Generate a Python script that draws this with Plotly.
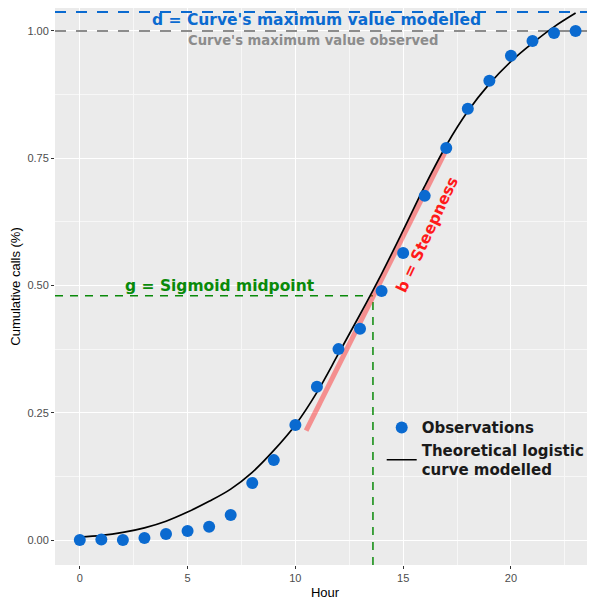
import plotly.graph_objects as go

# observed cumulative share of calls per hour
hours = list(range(24))
observed = [0.000, 0.001, 0.000, 0.004, 0.012, 0.018, 0.026, 0.049, 0.112, 0.157,
            0.226, 0.301, 0.375, 0.415, 0.489, 0.564, 0.676, 0.770, 0.847, 0.902,
            0.951, 0.980, 0.996, 1.000]

# theoretical logistic curve
curve_x = list(range(24))
curve_y = [0.006, 0.009, 0.015, 0.024, 0.037, 0.055, 0.076, 0.100, 0.133, 0.176,
           0.226, 0.290, 0.366, 0.443, 0.523, 0.608, 0.695, 0.775, 0.842, 0.896,
           0.940, 0.976, 1.008, 1.035]

# steepness segment
slope_x = [10.5, 17.1]
slope_y = [0.215, 0.775]

d_model = 1.037
d_obs = 1.0
g_x = 13.6
g_y = 0.48

x_range = [-1.15, 23.9]
y_range = [-0.049, 1.045]
x_ticks = [0, 5, 10, 15, 20]
y_ticks = [0.0, 0.25, 0.5, 0.75, 1.0]
y_labels = ["0.00", "0.25", "0.50", "0.75", "1.00"]

blue = "#0A6AD0"
green = "#0A8A0A"
grey = "#8C8C8C"

fig = go.Figure()


def ref_line(xs, ys, color, width, dash):
    fig.add_trace(go.Scatter(x=xs, y=ys, mode="lines", showlegend=False, hoverinfo="skip",
                             line=dict(color=color, width=width, dash=dash)))


# reference lines
ref_line(x_range, [d_model, d_model], blue, 2, "11px,10px")
ref_line(x_range, [d_obs, d_obs], grey, 2, "11px,10px")
ref_line([x_range[0], g_x], [g_y, g_y], green, 1.5, "8px,7px")
ref_line([g_x, g_x], [y_range[0], g_y], green, 1.5, "8px,7px")

fig.add_trace(go.Scatter(x=slope_x, y=slope_y, mode="lines",
                         line=dict(color="rgba(255,30,30,0.45)", width=5),
                         showlegend=False, hoverinfo="skip"))

fig.add_trace(go.Scatter(x=curve_x, y=curve_y, mode="lines",
                         line=dict(color="black", width=1.7, shape="spline", smoothing=1),
                         name="<b>Theoretical logistic<br>curve modelled</b>"))

fig.add_trace(go.Scatter(x=hours, y=observed, mode="markers",
                         marker=dict(color=blue, size=12),
                         name="<b>Observations</b>"))

ann_font = "DejaVu Sans"
fig.add_annotation(x=11.0, y=1.021, text="<b>d = Curve's maximum value modelled</b>",
                   showarrow=False, font=dict(family=ann_font, size=15.5, color=blue))
fig.add_annotation(x=10.8, y=0.981, text="<b>Curve's maximum value observed</b>",
                   showarrow=False, font=dict(family=ann_font, size=13.2, color=grey))
fig.add_annotation(x=6.5, y=0.499, text="<b>g = Sigmoid midpoint</b>",
                   showarrow=False, font=dict(family=ann_font, size=15.5, color=green))
fig.add_annotation(x=16.1, y=0.6, text="<b>b = Steepness</b>", textangle=-65,
                   showarrow=False, font=dict(family=ann_font, size=15.5, color="#FF1A1A"))

# page body keeps an 8px margin, so the figure is sized to fill the rest of the window
fig.update_layout(
    width=587, height=592,
    margin=dict(l=47, r=0, t=0, b=35),
    paper_bgcolor="white",
    plot_bgcolor="#EBEBEB",
    font=dict(family="Liberation Sans, Arial", color="#4D4D4D", size=11),
    legend=dict(x=0.605, y=0.276, xanchor="left", yanchor="top",
                bgcolor="rgba(0,0,0,0)", tracegroupgap=0, traceorder="reversed",
                font=dict(family=ann_font, size=15, color="#1A1A1A"),
                itemwidth=30),
)

fig.update_xaxes(range=x_range, tickvals=x_ticks, showgrid=True, gridcolor="white",
                 gridwidth=1.2, zeroline=False, ticks="outside", ticklen=3, tickcolor="#333333",
                 automargin=False,
                 minor=dict(dtick=2.5, tick0=2.5, showgrid=True, gridcolor="#F7F7F7", gridwidth=0.6),
                 title=dict(text="Hour", font=dict(size=13, color="black"), standoff=7))
fig.update_yaxes(range=y_range, tickvals=y_ticks, ticktext=y_labels, showgrid=True,
                 gridcolor="white", gridwidth=1.2, zeroline=False, ticks="outside", ticklen=3,
                 tickcolor="#333333", automargin=False,
                 minor=dict(dtick=0.125, tick0=0.125, showgrid=True, gridcolor="#F7F7F7", gridwidth=0.6),
                 title=dict(text="Cumulative calls (%)", font=dict(size=13, color="black"), standoff=4))

fig.write_html("out.html")
